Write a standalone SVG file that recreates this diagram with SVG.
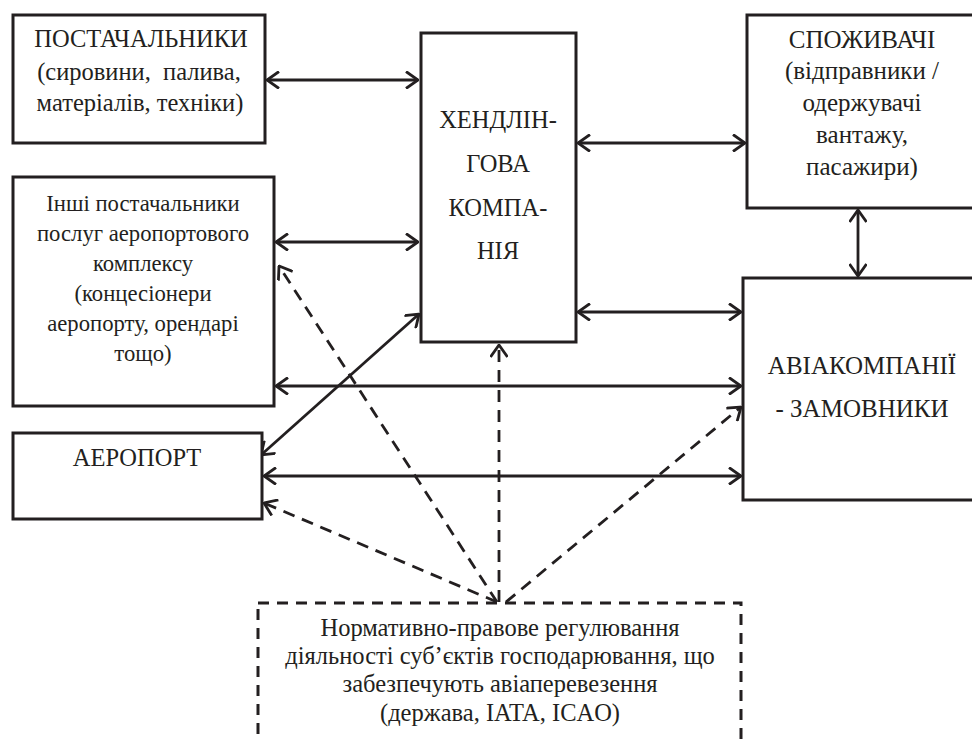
<svg xmlns="http://www.w3.org/2000/svg" width="972" height="742" viewBox="0 0 972 742">
<style>
.box{fill:#fff;stroke:#231f20;stroke-width:3}
.dbox{fill:none;stroke:#231f20;stroke-width:3;stroke-dasharray:11 8}
.t{font-family:"Liberation Serif","Times New Roman",serif;fill:#231f20;text-anchor:middle;font-size:24.5px}
.m{font-size:22.7px}
.l{font-size:25px}
.c{fill:none;stroke:#231f20;stroke-width:2.8}
.d{fill:none;stroke:#231f20;stroke-width:2.8;stroke-dasharray:12 8}
</style>
<defs>
<marker id="ah" viewBox="0 0 14 18" refX="13" refY="9" markerWidth="14" markerHeight="18" markerUnits="userSpaceOnUse" orient="auto-start-reverse">
<path d="M1,0.5 L13,9 L1,17.5" fill="none" stroke="#231f20" stroke-width="2.8"/>
</marker>
</defs>
<g id="connectors">
<line class="c" x1="267" y1="80" x2="418" y2="80" marker-start="url(#ah)" marker-end="url(#ah)"/>
<line class="c" x1="276" y1="242" x2="418" y2="242" marker-start="url(#ah)" marker-end="url(#ah)"/>
<line class="c" x1="578" y1="143" x2="745" y2="143" marker-start="url(#ah)" marker-end="url(#ah)"/>
<line class="c" x1="578" y1="312" x2="741" y2="312" marker-start="url(#ah)" marker-end="url(#ah)"/>
<line class="c" x1="858" y1="210" x2="858" y2="276" marker-start="url(#ah)" marker-end="url(#ah)"/>
<line class="c" x1="276" y1="386" x2="741" y2="386" marker-start="url(#ah)" marker-end="url(#ah)"/>
<line class="c" x1="264" y1="476" x2="741" y2="476" marker-start="url(#ah)" marker-end="url(#ah)"/>
<line class="c" x1="261" y1="455" x2="419" y2="314" marker-start="url(#ah)" marker-end="url(#ah)"/>
<line class="d" x1="497" y1="602" x2="279" y2="266" marker-end="url(#ah)"/>
<line class="d" x1="497" y1="602" x2="264" y2="503" marker-end="url(#ah)"/>
<line class="d" x1="499" y1="602" x2="499" y2="345" marker-end="url(#ah)"/>
<line class="d" x1="506" y1="602" x2="741" y2="407" marker-end="url(#ah)"/>
</g>
<g id="suppliers">
<rect class="box" x="13" y="15" width="252" height="128"/>
<text class="t" x="141" y="47">ПОСТАЧАЛЬНИКИ</text>
<text class="t" x="139" y="80" xml:space="preserve">(сировини,  палива,</text>
<text class="t" x="140" y="111">матеріалів, техніки)</text>
</g>
<g id="handling">
<rect class="box" x="421" y="33" width="155" height="309"/>
<text class="t" x="498" y="128">ХЕНДЛІН-</text>
<text class="t" x="498" y="172">ГОВА</text>
<text class="t" x="498" y="216">КОМПА-</text>
<text class="t" x="498" y="259">НІЯ</text>
</g>
<g id="consumers">
<rect class="box" x="747" y="15" width="240" height="193"/>
<text class="t l" x="862" y="47.5">СПОЖИВАЧІ</text>
<text class="t l" x="862" y="79">(відправники /</text>
<text class="t l" x="862" y="111">одержувачі</text>
<text class="t l" x="862" y="143">вантажу,</text>
<text class="t l" x="862" y="175">пасажири)</text>
</g>
<g id="other-suppliers">
<rect class="box" x="13" y="177" width="261" height="229"/>
<text class="t m" x="143" y="211">Інші постачальники</text>
<text class="t m" x="143" y="241">послуг аеропортового</text>
<text class="t m" x="143" y="271">комплексу</text>
<text class="t m" x="143" y="301">(концесіонери</text>
<text class="t m" x="143" y="331">аеропорту, орендарі</text>
<text class="t m" x="143" y="361">тощо)</text>
</g>
<g id="airport">
<rect class="box" x="13" y="433" width="249" height="86"/>
<text class="t" x="137" y="466">АЕРОПОРТ</text>
</g>
<g id="airlines">
<rect class="box" x="743" y="278" width="240" height="222"/>
<text class="t l" x="862" y="374">АВІАКОМПАНІЇ</text>
<text class="t l" x="862" y="417">- ЗАМОВНИКИ</text>
</g>
<g id="regulation">
<rect class="dbox" x="258" y="603" width="483" height="200"/>
<text class="t" x="500" y="636">Нормативно-правове регулювання</text>
<text class="t" x="500" y="664">діяльності суб’єктів господарювання, що</text>
<text class="t" x="500" y="692">забезпечують авіаперевезення</text>
<text class="t" x="500" y="721">(держава, IATA, ICAO)</text>
</g>
</svg>
